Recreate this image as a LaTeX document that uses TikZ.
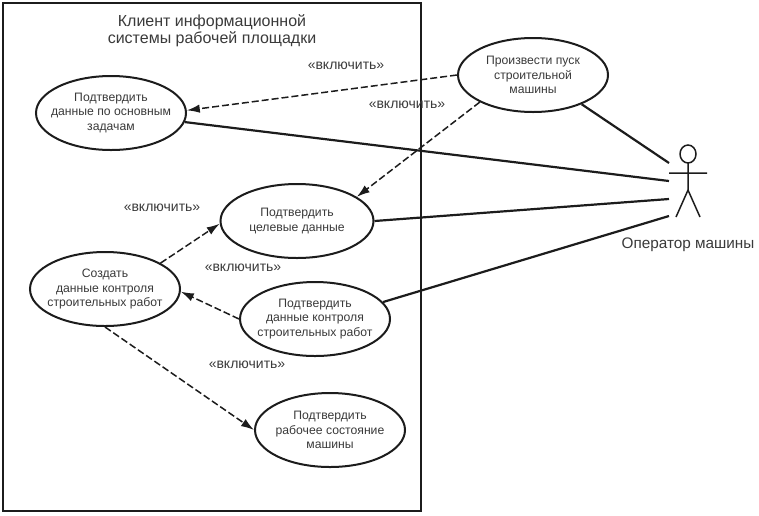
\documentclass[tikz,border=0pt]{standalone}
\usepackage{fontspec}
\setmainfont{Liberation Sans}
\usetikzlibrary{arrows.meta,shapes.geometric}
\definecolor{ink}{HTML}{1C1C1C}
\definecolor{textgray}{HTML}{3A3A3A}
\tikzset{>=Latex,
  usecase/.style={ellipse,draw=ink,fill=white,line width=2pt,inner sep=-10pt,
    minimum width=150pt,minimum height=74pt,align=center,text=textgray,font=\fontsize{12.2}{14.5}\selectfont},
  include/.style={-{Latex[length=13pt,width=8.5pt]},draw=ink,line width=1.5pt,dash pattern=on 7pt off 3pt},
  assoc/.style={draw=ink,line width=2.2pt},
  frame/.style={draw=ink,line width=2.4pt},
  actorline/.style={draw=ink,line width=1.5pt},
  stereotype/.style={text=textgray,font=\fontsize{14}{17}\selectfont},
  caption/.style={text=textgray,align=center,font=\fontsize{16}{17}\selectfont}}
\begin{document}
\begin{tikzpicture}[x=1pt,y=-1pt]
\useasboundingbox (0,0) rectangle (759,515);
\draw[frame] (3,3) rectangle (421,511);
\node[caption] (title) at (212,31) {Клиент информационной\\системы рабочей площадки};
% use cases
\node[usecase] (main) at (111,113) {Подтвердить\\данные по основным\\задачам};
\node[usecase] (start) at (533,75) {Произвести пуск\\строительной\\машины};
\node[usecase,minimum width=153pt] (target) at (297,221) {Подтвердить\\целевые данные};
\node[usecase] (create) at (105,289) {Создать\\данные контроля\\строительных работ};
\node[usecase] (control) at (315,319) {Подтвердить\\данные контроля\\строительных работ};
\node[usecase] (state) at (330,430) {Подтвердить\\рабочее состояние\\машины};
% actor
\draw[actorline] (688,154) ellipse (8 and 9);
\draw[actorline] (669,173)--(707,173) (688,163)--(688,190) (676,217)--(688,190)--(700,217);
\node[text=textgray,font=\fontsize{15.3}{18}\selectfont] (operator) at (688,245) {Оператор машины};
\coordinate (a1) at (669,163);
\coordinate (a2) at (669,181);
\coordinate (a3) at (669,199);
\coordinate (a4) at (669,216);
\draw[assoc] (start.-31)--(a1);
\draw[assoc] (main.-7)--(a2);
\draw[assoc] (target.0)--(a3);
\draw[assoc] (control.14)--(a4);
% includes
\draw[include] (start.180)--(main.2);
\draw[include] (start.207)--(target.22);
\draw[include] (create.25)--(target.182);
\draw[include] (control.180)--(create.-2);
\draw[include] (create.270)--(state.180);
\node[stereotype] (inc1) at (346,66) {«включить»};
\node[stereotype] (inc2) at (407,105) {«включить»};
\node[stereotype] (inc3) at (162,208) {«включить»};
\node[stereotype] (inc4) at (243,268) {«включить»};
\node[stereotype] (inc5) at (247,365) {«включить»};
\end{tikzpicture}
\end{document}
